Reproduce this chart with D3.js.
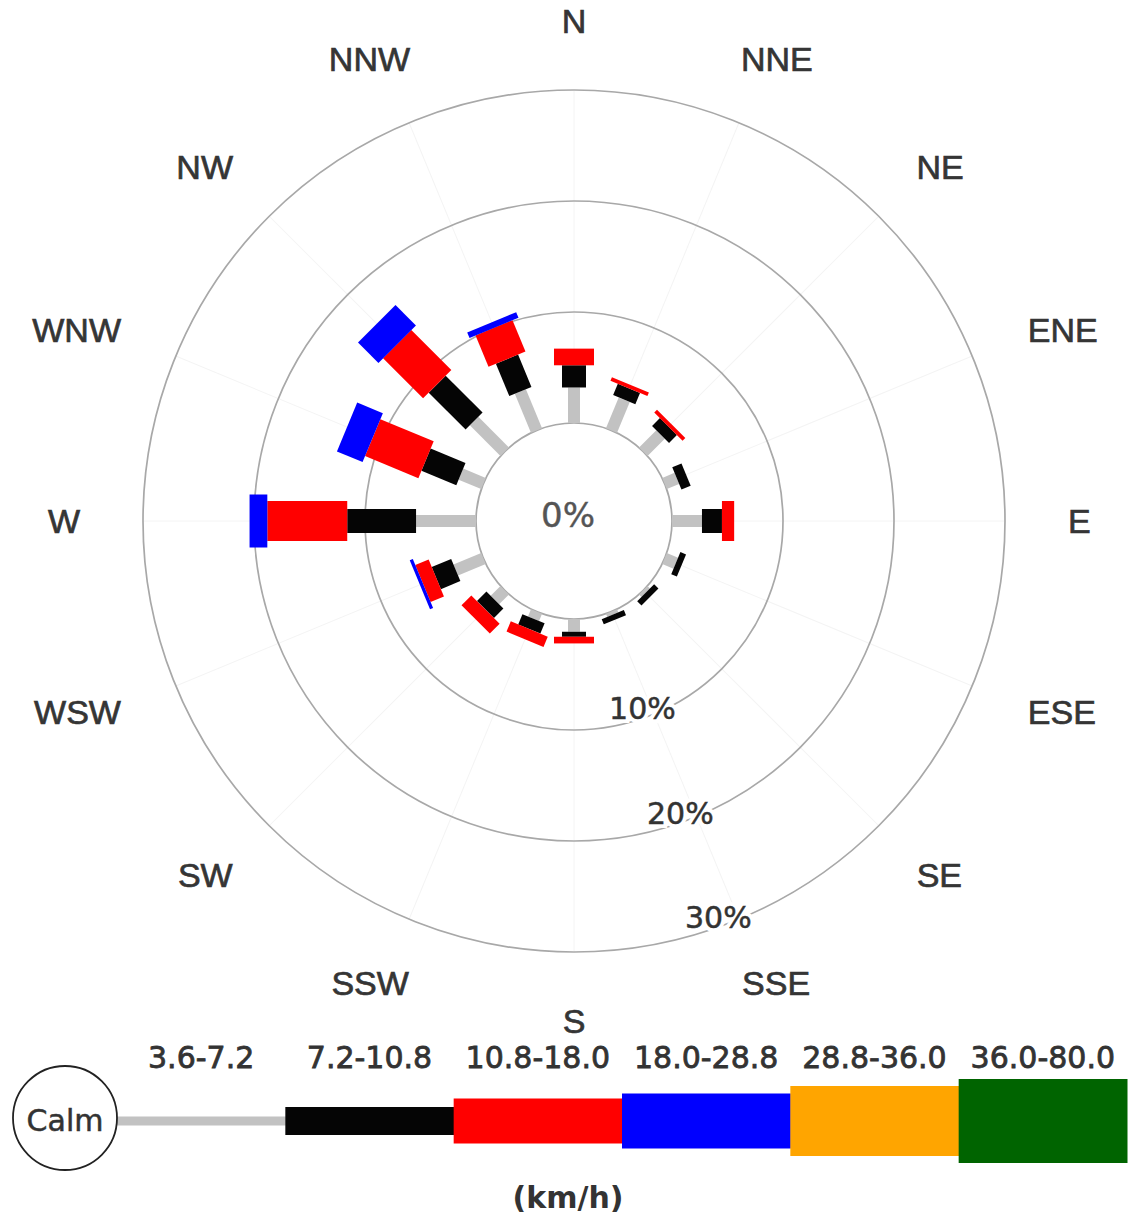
<!DOCTYPE html>
<html>
<head>
<meta charset="utf-8">
<script src="https://cdn.jsdelivr.net/npm/d3@7"></script>
<style>
  html, body { margin: 0; padding: 0; background: #fff; }
  svg { display: block; }
</style>
</head>
<body>
<script>
// ---------------- data ----------------
const directions = ["N","NNE","NE","ENE","E","ESE","SE","SSE","S","SSW","SW","WSW","W","WNW","NW","NNW"];
const speedClasses = ["3.6-7.2","7.2-10.8","10.8-18.0","18.0-28.8","28.8-36.0","36.0-80.0"];
// frequency (%) per direction for each speed class
const speed_3_6_7_2   = [3.2, 3.0, 2.2, 1.2, 2.7, 1.1, 0.3, 0.3, 1.15, 0.7, 1.25, 2.7, 5.4, 2.2, 3.9, 3.8];
const speed_7_2_10_8  = [2.0, 1.1, 1.0, 0.9, 1.8, 0.55, 0.55, 0.5, 0.45, 1.0, 1.2, 1.9, 6.2, 3.4, 4.7, 3.15];
const speed_10_8_18_0 = [1.5, 0.35, 0.35, 0, 1.1, 0, 0, 0, 0.6, 1.0, 1.25, 1.3, 7.2, 5.2, 5.1, 3.05];
const speed_18_0_28_8 = [0, 0, 0, 0, 0, 0, 0, 0, 0, 0, 0, 0.3, 1.6, 2.5, 2.6, 0.55];
const speed_28_8_36_0 = [0, 0, 0, 0, 0, 0, 0, 0, 0, 0, 0, 0, 0, 0, 0, 0];
const speed_36_0_80_0 = [0, 0, 0, 0, 0, 0, 0, 0, 0, 0, 0, 0, 0, 0, 0, 0];
const ringTicks = [0, 10, 20, 30];
const ringLabels = ["0%", "10%", "20%", "30%"];
const unitLabel = "(km/h)";
const calmLabel = "Calm";

// ---------------- styles ----------------
const classColors = ["#c2c2c2", "#050505", "#ff0000", "#0000ff", "#ffa500", "#006400"];
const roseWidths  = [12, 24, 40, 53, 66, 80];
const legendHeights = [9, 28, 45, 55, 70, 84];

const W = 1130, H = 1220;
const cx = 574, cy = 521;

const svg = d3.select("body").append("svg")
  .attr("width", W).attr("height", H)
  .attr("viewBox", `0 0 ${W} ${H}`);
svg.append("rect").attr("width", W).attr("height", H).attr("fill", "#fff");

const seriesArrays = [speed_3_6_7_2, speed_7_2_10_8, speed_10_8_18_0, speed_18_0_28_8, speed_28_8_36_0, speed_36_0_80_0];
const rows = directions.map((d, i) => {
  const o = { dir: d };
  speedClasses.forEach((k, j) => o[k] = seriesArrays[j][i]);
  return o;
});

// scales
const r = d3.scaleLinear().domain([0, 30]).range([98, 431]);
const angle = d3.scaleBand().domain(directions).range([0, 360]);
const color = d3.scaleOrdinal().domain(speedClasses).range(classColors);
const barWidth = d3.scaleOrdinal().domain(speedClasses).range(roseWidths);

const g = svg.append("g").attr("transform", `translate(${cx},${cy})`);

// faint spokes
g.append("g").selectAll("line").data(directions).join("line")
  .attr("x1", 0).attr("y1", -r(0))
  .attr("x2", 0).attr("y2", -r(30))
  .attr("transform", d => `rotate(${angle(d)})`)
  .attr("stroke", "#f4f4f4").attr("stroke-width", 1);

// rings
g.append("g").selectAll("circle").data(ringTicks).join("circle")
  .attr("r", d => r(d))
  .attr("fill", "none")
  .attr("stroke", "#a8a8a8")
  .attr("stroke-width", 1.7);

// stacked bars
const stack = d3.stack().keys(speedClasses);
const layers = stack(rows);
const barsG = g.append("g");
layers.forEach(layer => {
  barsG.append("g").selectAll("rect")
    .data(layer.filter(d => d[1] - d[0] > 0))
    .join("rect")
    .attr("transform", d => `rotate(${angle(d.data.dir)})`)
    .attr("x", -barWidth(layer.key) / 2)
    .attr("width", barWidth(layer.key))
    .attr("y", d => -r(d[1]))
    .attr("height", d => r(d[1]) - r(d[0]))
    .attr("fill", color(layer.key));
});

// ring labels (white halo then text)
const labelAngle = 160 * Math.PI / 180;
const ringLab = g.append("g")
  .attr("font-family", "'DejaVu Sans', Verdana, sans-serif")
  .attr("font-size", 30)
  .attr("text-anchor", "middle")
  .attr("dominant-baseline", "central");
[["#fff", 8], ["#333", 0.5]].forEach(([st, sw]) => {
  ringLab.append("g").selectAll("text").data(ringTicks.slice(1)).join("text")
    .attr("x", d => Math.sin(labelAngle) * (r(d) - 9))
    .attr("y", d => -Math.cos(labelAngle) * (r(d) - 9))
    .attr("fill", st === "#fff" ? "#fff" : "#333")
    .attr("stroke", st).attr("stroke-width", sw)
    .text((d, i) => ringLabels[i + 1]);
});

// center label
g.append("text")
  .attr("x", -6).attr("y", -6)
  .attr("text-anchor", "middle")
  .attr("dominant-baseline", "central")
  .attr("font-family", "'DejaVu Sans', Verdana, sans-serif")
  .attr("font-size", 34)
  .attr("fill", "#555")
  .attr("stroke", "#555").attr("stroke-width", 0.4)
  .text(ringLabels[0]);

// direction labels
const dirG = g.append("g");
const r0x = 494, r0y = 488;
dirG.selectAll("text").data(directions).join("text")
  .attr("text-anchor", "middle")
  .attr("dominant-baseline", "central")
  .attr("font-family", "'Liberation Sans', Arial, sans-serif")
  .attr("font-size", 34)
  .attr("fill", "#353535")
  .attr("stroke", "#353535").attr("stroke-width", 0.7)
  .text(d => d)
  .each(function(d) {
    const a = angle(d) * Math.PI / 180;
    const hw = this.getComputedTextLength() / 2;
    const hh = 12;
    const ux = Math.sin(a), uy = -Math.cos(a);
    d3.select(this)
      .attr("x", ux * (r0x + hw))
      .attr("y", uy * (r0y + hh));
  });

// ---------------- legend ----------------
const legendY = 1121;
const lx = d3.scaleBand().domain(speedClasses).range([117, 1127]);
const legH = d3.scaleOrdinal().domain(speedClasses).range(legendHeights);
const leg = svg.append("g");

leg.selectAll("rect").data(speedClasses).join("rect")
  .attr("x", d => lx(d))
  .attr("width", lx.bandwidth() + 0.5)
  .attr("y", d => legendY - legH(d) / 2)
  .attr("height", d => legH(d))
  .attr("fill", d => color(d));

leg.selectAll("text.cls").data(speedClasses).join("text")
  .attr("class", "cls")
  .attr("x", d => lx(d) + lx.bandwidth() / 2)
  .attr("y", 1057)
  .attr("text-anchor", "middle")
  .attr("dominant-baseline", "central")
  .attr("font-family", "'DejaVu Sans', Verdana, sans-serif")
  .attr("font-size", 30)
  .attr("fill", "#333")
  .attr("stroke", "#333").attr("stroke-width", 0.8)
  .text(d => d);

// calm circle
leg.append("circle")
  .attr("cx", 65).attr("cy", 1118).attr("r", 52)
  .attr("fill", "#fff")
  .attr("stroke", "#222").attr("stroke-width", 1.8);
leg.append("text")
  .attr("x", 65).attr("y", 1120)
  .attr("text-anchor", "middle")
  .attr("dominant-baseline", "central")
  .attr("font-family", "'DejaVu Sans', Verdana, sans-serif")
  .attr("font-size", 30)
  .attr("fill", "#333")
  .attr("stroke", "#333").attr("stroke-width", 0.5)
  .text(calmLabel);

// unit label
leg.append("text")
  .attr("x", 568).attr("y", 1197)
  .attr("text-anchor", "middle")
  .attr("dominant-baseline", "central")
  .attr("font-family", "'DejaVu Sans', Verdana, sans-serif")
  .attr("font-weight", "bold")
  .attr("font-size", 30)
  .attr("fill", "#333")
  .text(unitLabel);
</script>
</body>
</html>
